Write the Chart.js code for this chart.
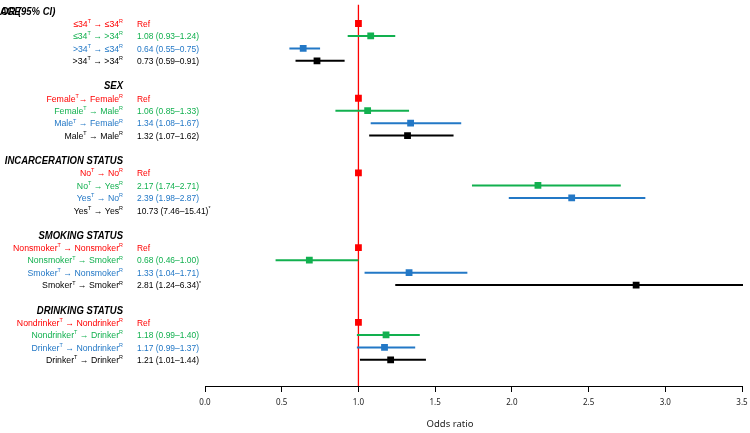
<!DOCTYPE html>
<html>
<head>
<meta charset="utf-8">
<script src="https://cdn.jsdelivr.net/npm/chart.js@4"></script>
<style>
  body { margin: 0; background: #fff; }
  canvas { display: block; }
</style>
</head>
<body>
<canvas id="forest" width="750" height="433"></canvas>
<script>
// groups and rows (4 rows per group)
const groupNames = ['AGE', 'SEX', 'INCARCERATION STATUS', 'SMOKING STATUS', 'DRINKING STATUS'];
const rowLabels = [
    '≤34^T → ≤34^R', '≤34^T → >34^R', '>34^T → ≤34^R', '>34^T → >34^R',
    'Female^T→ Female^R', 'Female^T → Male^R', 'Male^T → Female^R', 'Male^T → Male^R',
    'No^T → No^R', 'No^T → Yes^R', 'Yes^T → No^R', 'Yes^T → Yes^R',
    'Nonsmoker^T → Nonsmoker^R', 'Nonsmoker^T → Smoker^R', 'Smoker^T → Nonsmoker^R', 'Smoker^T → Smoker^R',
    'Nondrinker^T → Nondrinker^R', 'Nondrinker^T → Drinker^R', 'Drinker^T → Nondrinker^R', 'Drinker^T → Drinker^R'
];
const oddsRatios = [1, 1.08, 0.64, 0.73, 1, 1.06, 1.34, 1.32, 1, 2.17, 2.39, 10.73, 1, 0.68, 1.33, 2.81, 1, 1.18, 1.17, 1.21];
const ciLow = [null, 0.93, 0.55, 0.59, null, 0.85, 1.08, 1.07, null, 1.74, 1.98, 7.46, null, 0.46, 1.04, 1.24, null, 0.99, 0.99, 1.01];
const ciHigh = [null, 1.24, 0.75, 0.91, null, 1.33, 1.67, 1.62, null, 2.71, 2.87, 15.41, null, 1.00, 1.71, 6.34, null, 1.40, 1.37, 1.44];
const valueLabels = [
    'Ref', '1.08 (0.93–1.24)', '0.64 (0.55–0.75)', '0.73 (0.59–0.91)',
    'Ref', '1.06 (0.85–1.33)', '1.34 (1.08–1.67)', '1.32 (1.07–1.62)',
    'Ref', '2.17 (1.74–2.71)', '2.39 (1.98–2.87)', '10.73 (7.46–15.41)^*',
    'Ref', '0.68 (0.46–1.00)', '1.33 (1.04–1.71)', '2.81 (1.24–6.34)^*',
    'Ref', '1.18 (0.99–1.40)', '1.17 (0.99–1.37)', '1.21 (1.01–1.44)'
];
const xTicks = [0, 0.5, 1, 1.5, 2, 2.5, 3, 3.5];
const refValue = 1;

const rowColors = ['#ff0000', '#12b04f', '#2378c6', '#000000'];

const slotOf = i => Math.floor(i / 4) * 6 + 1 + (i % 4);
const colorOf = i => rowColors[i % 4];

// text with ^X superscripts
function drawRich(ctx, str, x, y, align, size, color, sx, style) {
    const parts = str.split(/\^(.)/);
    const base = (style || '') + ' ' + size + 'px "Liberation Sans", Arial, sans-serif';
    const sup = (size * 0.62).toFixed(1) + 'px "Liberation Sans", Arial, sans-serif';
    let w = 0;
    parts.forEach((p, k) => {
        ctx.font = k % 2 ? sup : base;
        w += ctx.measureText(p).width;
    });
    const start = align === 'right' ? x - w * sx : x;
    ctx.save();
    ctx.translate(start, y);
    ctx.scale(sx, 1);
    ctx.fillStyle = color;
    ctx.textAlign = 'left';
    ctx.textBaseline = 'alphabetic';
    let cx = 0;
    parts.forEach((p, k) => {
        ctx.font = k % 2 ? sup : base;
        ctx.fillText(p, cx, k % 2 ? -size * 0.42 : 0);
        cx += ctx.measureText(p).width;
    });
    ctx.restore();
}

const forestPlugin = {
    id: 'forest',
    beforeDatasetsDraw(chart) {
        const ctx = chart.ctx;
        const xs = chart.scales.x, ys = chart.scales.y;
        const area = chart.chartArea;
        ctx.save();
        ctx.beginPath();
        ctx.rect(area.left, area.top - 2, area.right - area.left + 1, area.bottom - area.top + 2);
        ctx.clip();
        // reference line
        const rx = xs.getPixelForValue(refValue);
        ctx.strokeStyle = '#ff0000';
        ctx.lineWidth = 1.3;
        ctx.beginPath();
        ctx.moveTo(rx, area.top);
        ctx.lineTo(rx, area.bottom);
        ctx.stroke();
        // confidence intervals
        ctx.lineWidth = 2;
        oddsRatios.forEach((v, i) => {
            if (ciLow[i] == null) return;
            const y = ys.getPixelForValue(slotOf(i));
            ctx.strokeStyle = colorOf(i);
            ctx.beginPath();
            ctx.moveTo(xs.getPixelForValue(ciLow[i]), y);
            ctx.lineTo(xs.getPixelForValue(ciHigh[i]), y);
            ctx.stroke();
        });
        ctx.restore();
    },
    afterDraw(chart) {
        const ctx = chart.ctx;
        const ys = chart.scales.y;
        // headers
        groupNames.forEach((g, gi) => {
            const y = ys.getPixelForValue(gi * 6) + 3.6;
            if (gi === 0) {
                drawRich(ctx, 'OR (95% CI)', 1, y, 'left', 10, '#000', 0.95, 'italic bold');
                drawRich(ctx, g, 0, y, 'left', 10, '#000', 0.95, 'italic bold');
            } else {
                drawRich(ctx, g, 123, y, 'right', 10, '#000', 0.95, 'italic bold');
            }
        });
        // row labels and values
        rowLabels.forEach((lab, i) => {
            const y = ys.getPixelForValue(slotOf(i)) + 3.3;
            drawRich(ctx, lab, 123, y, 'right', 9.2, colorOf(i), 0.95);
            drawRich(ctx, valueLabels[i], 137, y, 'left', 9.2, colorOf(i), 0.92);
        });
        // axis title
        ctx.save();
        ctx.font = '9.5px "Noto Sans", sans-serif';
        ctx.fillStyle = '#222';
        ctx.textAlign = 'center';
        ctx.textBaseline = 'middle';
        ctx.fillText('Odds ratio', 450, 424);
        ctx.restore();
    }
};

const points = oddsRatios.map((v, i) => ({ x: v, y: slotOf(i) }));

new Chart(document.getElementById('forest'), {
    type: 'scatter',
    data: {
        datasets: [{
            data: points,
            pointStyle: 'rect',
            pointRadius: 4.8,
            pointHoverRadius: 4.8,
            borderWidth: 0,
            backgroundColor: oddsRatios.map((v, i) => colorOf(i))
        }]
    },
    options: {
        responsive: false,
        animation: false,
        events: [],
        layout: { padding: { left: 205, right: 8, top: 0, bottom: 0 } },
        plugins: { legend: { display: false }, tooltip: { enabled: false } },
        scales: {
            x: {
                type: 'linear',
                min: xTicks[0],
                max: xTicks[xTicks.length - 1],
                afterBuildTicks: s => { s.ticks = xTicks.map(v => ({ value: v })); },
                afterFit: s => { s.height = 47; s.paddingRight = 0; s.paddingLeft = 0; },
                ticks: {
                    callback: v => Number(v).toFixed(1),
                    font: { family: 'Noto Sans', size: 8 },
                    color: '#222',
                    padding: 6,
                    maxRotation: 0
                },
                grid: { drawOnChartArea: false, drawTicks: true, tickLength: 6, color: '#000', lineWidth: 1 },
                border: { color: '#000', width: 1 }
            },
            y: {
                display: false,
                reverse: true,
                min: -0.5,
                max: 30.1
            }
        }
    },
    plugins: [forestPlugin]
});
</script>
</body>
</html>
